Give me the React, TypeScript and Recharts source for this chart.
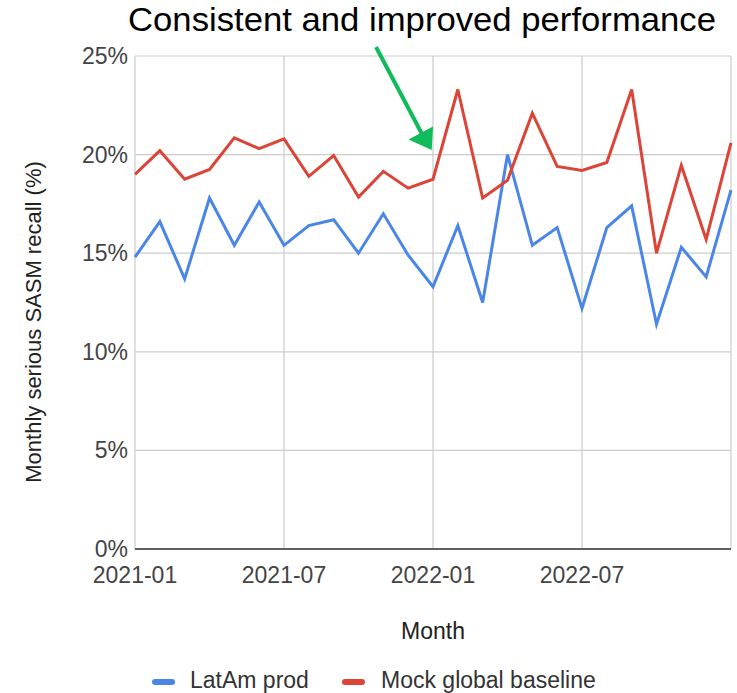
import React from 'react';
import { LineChart, Line, XAxis, YAxis, CartesianGrid, Label } from 'recharts';

const months = [
  '2021-01', '2021-02', '2021-03', '2021-04', '2021-05', '2021-06', '2021-07', '2021-08', '2021-09', '2021-10', '2021-11', '2021-12',
  '2022-01', '2022-02', '2022-03', '2022-04', '2022-05', '2022-06', '2022-07', '2022-08', '2022-09', '2022-10', '2022-11', '2022-12',
  '2023-01',
];
const latamProd = [14.8, 16.6, 13.7, 17.8, 15.4, 17.6, 15.4, 16.4, 16.7, 15.0, 17.0, 14.9, 13.3, 16.4, 12.5, 20.0, 15.4, 16.3, 12.2, 16.3, 17.4, 11.4, 15.3, 13.8, 18.2];
const mockBaseline = [19.0, 20.2, 18.75, 19.25, 20.85, 20.3, 20.8, 18.9, 19.95, 17.85, 19.15, 18.3, 18.75, 23.3, 17.8, 18.7, 22.1, 19.4, 19.2, 19.6, 23.3, 15.0, 19.45, 15.7, 20.6];
const xTicks = ['2021-01', '2021-07', '2022-01', '2022-07', '2023-01'];
const xTickLabels = ['2021-01', '2021-07', '2022-01', '2022-07', ''];
const yTicks = [0, 5, 10, 15, 20, 25];
const seriesNames = ['LatAm prod', 'Mock global baseline'];
const seriesColors = ['#4a86e8', '#db4437'];
const title = 'Consistent and improved performance';
const xTitle = 'Month';
const yTitle = 'Monthly serious SASM recall (%)';

const data = months.map((m, i) => ({ month: m, latam: latamProd[i], mock: mockBaseline[i] }));

const FONT = '"Liberation Sans", Arial, sans-serif';

const XTick = (props: any) => {
  const { x, y, payload } = props;
  const idx = xTicks.indexOf(payload.value);
  const label = idx >= 0 ? xTickLabels[idx] : '';
  if (!label) return null;
  return (
    <text x={x} y={y + 34} textAnchor="middle" fontSize={23} fill="#444" fontFamily={FONT}>
      {label}
    </text>
  );
};

const YTick = (props: any) => {
  const { y, payload } = props;
  return (
    <text x={128} y={y + 8} textAnchor="end" fontSize={23} fill="#444" fontFamily={FONT}>
      {`${payload.value}%`}
    </text>
  );
};

export default function App() {
  return (
    <div style={{ position: 'absolute', left: 0, top: 0, width: 737, height: 693, background: '#fff' }}>
      <LineChart width={737} height={693} data={data} margin={{ top: 56, right: 6, left: 0, bottom: 0 }}>
        <CartesianGrid stroke="#cccccc" strokeWidth={1.2} />
        <XAxis
          dataKey="month"
          type="category"
          ticks={xTicks}
          interval={0}
          height={144}
          tickLine={false}
          tickSize={0}
          tickMargin={0}
          axisLine={{ stroke: '#333', strokeWidth: 1.5 }}
          tick={<XTick />}
        >
          <Label value={xTitle} position="insideBottom" offset={54} fontSize={23} fill="#222" fontFamily={FONT} />
        </XAxis>
        <YAxis
          type="number"
          domain={[0, 25]}
          ticks={yTicks}
          width={135}
          tickLine={false}
          axisLine={false}
          tick={<YTick />}
        >
          <Label
            value={yTitle}
            content={() => (
              <text
                x={33}
                y={322}
                transform="rotate(-90 33 322)"
                textAnchor="middle"
                dominantBaseline="central"
                fontSize={22}
                fill="#222"
                fontFamily={FONT}
              >
                {yTitle}
              </text>
            )}
          />
        </YAxis>
        <Line dataKey="latam" name={seriesNames[0]} stroke={seriesColors[0]} strokeWidth={3} dot={false} isAnimationActive={false} />
        <Line dataKey="mock" name={seriesNames[1]} stroke={seriesColors[1]} strokeWidth={3} dot={false} isAnimationActive={false} />
      </LineChart>
      <svg width={737} height={693} style={{ position: 'absolute', left: 0, top: 0, pointerEvents: 'none' }}>
        <text x={422} y={31} textAnchor="middle" fontSize={33} fill="#000" fontFamily={FONT} textLength={588} lengthAdjust="spacingAndGlyphs">
          {title}
        </text>
        <line x1={376} y1={47} x2={422} y2={134} stroke="#10bb5c" strokeWidth={4} />
        <polygon points="431.7,150 408.5,139.5 433,126.5" fill="#10bb5c" />
        <rect x={152} y={679} width={23} height={6} rx={3} fill={seriesColors[0]} />
        <text x={190} y={688} fontSize={23} fill="#333" fontFamily={FONT}>{seriesNames[0]}</text>
        <rect x={342} y={679} width={23} height={6} rx={3} fill={seriesColors[1]} />
        <text x={381} y={688} fontSize={23} fill="#333" fontFamily={FONT}>{seriesNames[1]}</text>
      </svg>
    </div>
  );
}
